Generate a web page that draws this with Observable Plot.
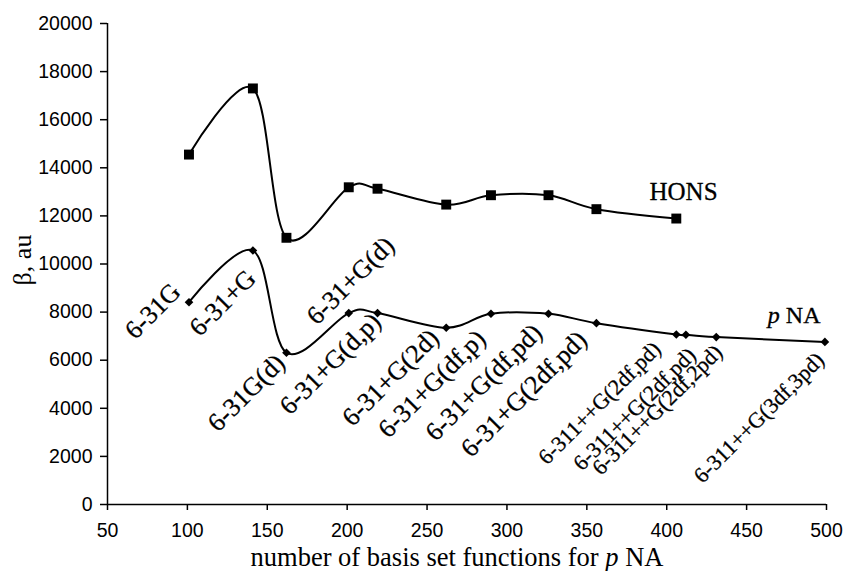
<!DOCTYPE html>
<html><head><meta charset="utf-8">
<script src="https://cdn.jsdelivr.net/npm/d3@7"></script>
<script src="https://cdn.jsdelivr.net/npm/@observablehq/plot@0.6"></script>
<style>body{margin:0;background:#fff}</style>
</head><body><div id="chart"></div>
<script>
// number of basis set functions
const honsX = [101, 141, 162, 201, 219, 262, 290, 326, 356, 406];
const honsBeta = [14550, 17300, 11090, 13190, 13130, 12470, 12860, 12860, 12280, 11890];
const pnaX = [101, 141, 162, 201, 219, 262, 290, 326, 356, 406, 412, 431, 499];
const pnaBeta = [8410, 10560, 6310, 7960, 7960, 7350, 7930, 7930, 7540, 7070, 7060, 6960, 6760];
const basisLabels = ["6-31G", "6-31+G", "6-31G(d)", "6-31+G(d)", "6-31+G(d,p)", "6-31+G(2d)",
  "6-31+G(df,p)", "6-31+G(df,pd)", "6-31+G(2df,pd)", "6-311++G(2df,pd)", "6-311++G(2df,pd)",
  "6-311++G(2df,2pd)", "6-311++G(3df,3pd)"];
// label anchor (end of text) in data units
const labelX = [96.7, 143.7, 162, 230.5, 222.1, 258.4, 287.6, 323, 351, 397.1, 419, 435.7, 499.3];
const labelY = [8770, 9330, 5820, 10700, 7530, 6860, 6820, 7070, 6780, 6400, 6150, 6280, 5950];
const xTicks = [50, 100, 150, 200, 250, 300, 350, 400, 450, 500];
const yTicks = [0, 2000, 4000, 6000, 8000, 10000, 12000, 14000, 16000, 18000, 20000];

const hons = honsX.map((x, i) => ({x, y: honsBeta[i]}));
const pna = pnaX.map((x, i) => ({x, y: pnaBeta[i]}));
const labels = basisLabels.map((t, i) => ({t, x: labelX[i], y: labelY[i], i}));

const serif = "'Liberation Serif', 'Times New Roman', serif";

const plot = Plot.plot({
  width: 845, height: 571,
  marginLeft: 107, marginRight: 19, marginTop: 23, marginBottom: 67,
  style: {fontFamily: "'Liberation Sans', Arial, sans-serif", fontSize: "19.5px", color: "black", background: "white"},
  x: {domain: [50, 500], label: null},
  y: {domain: [0, 20000], label: null},
  marks: [
    Plot.axisX({ticks: xTicks, tickFormat: "d", tickSize: 6, tickPadding: 13, label: null, strokeWidth: 1.5}),
    Plot.axisY({ticks: yTicks, tickFormat: "d", tickSize: 7, tickPadding: 8, label: null, strokeWidth: 1.5}),
    Plot.ruleY([0], {stroke: "black", strokeWidth: 1.5}),
    Plot.ruleX([50], {stroke: "black", strokeWidth: 1.5}),
    Plot.line(hons, {x: "x", y: "y", curve: "cardinal", stroke: "black", strokeWidth: 2}),
    Plot.dot(hons, {x: "x", y: "y", symbol: "square", r: 5.6, fill: "black", stroke: null}),
    Plot.line(pna, {x: "x", y: "y", curve: "cardinal", stroke: "black", strokeWidth: 2}),
    Plot.dot(pna, {x: "x", y: "y", symbol: "diamond2", r: 3.9, fill: "black", stroke: null}),
    Plot.text(labels, {x: "x", y: "y", text: "t", rotate: -45, textAnchor: "end", lineAnchor: "bottom",
      fontFamily: serif, fontSize: d => d.i < 9 ? 26 : 22, fill: "black", stroke: "black", strokeWidth: 0.3}),
    Plot.text(["HONS"], {x: 389.2, y: 12680, text: d => d, textAnchor: "start", lineAnchor: "bottom",
      fontFamily: serif, fontSize: 25, fill: "black", stroke: "black", strokeWidth: 0.3})
  ]
});

const svg = d3.select(plot);
const sx = plot.scale("x"), sy = plot.scale("y");
// pNA series label with italic p
const pl = svg.append("text")
  .attr("x", sx.apply(463.6)).attr("y", sy.apply(7526))
  .attr("text-anchor", "start")
  .attr("font-family", serif).attr("font-size", 24).attr("fill", "black")
  .attr("stroke", "black").attr("stroke-width", 0.3);
pl.append("tspan").attr("font-style", "italic").text("p");
pl.append("tspan").text(" NA");
// y axis title
svg.append("text")
  .attr("transform", "translate(31,260) rotate(-90)")
  .attr("text-anchor", "middle")
  .attr("font-family", serif).attr("font-size", 26).attr("fill", "black")
  .text("β, au");
// x axis title
const xt = svg.append("text")
  .attr("x", 457).attr("y", 566)
  .attr("text-anchor", "middle")
  .attr("font-family", serif).attr("font-size", 26.5).attr("fill", "black");
xt.append("tspan").text("number of basis set functions for ");
xt.append("tspan").attr("font-style", "italic").text("p");
xt.append("tspan").text(" NA");

document.getElementById("chart").appendChild(plot);
</script>
</body></html>
